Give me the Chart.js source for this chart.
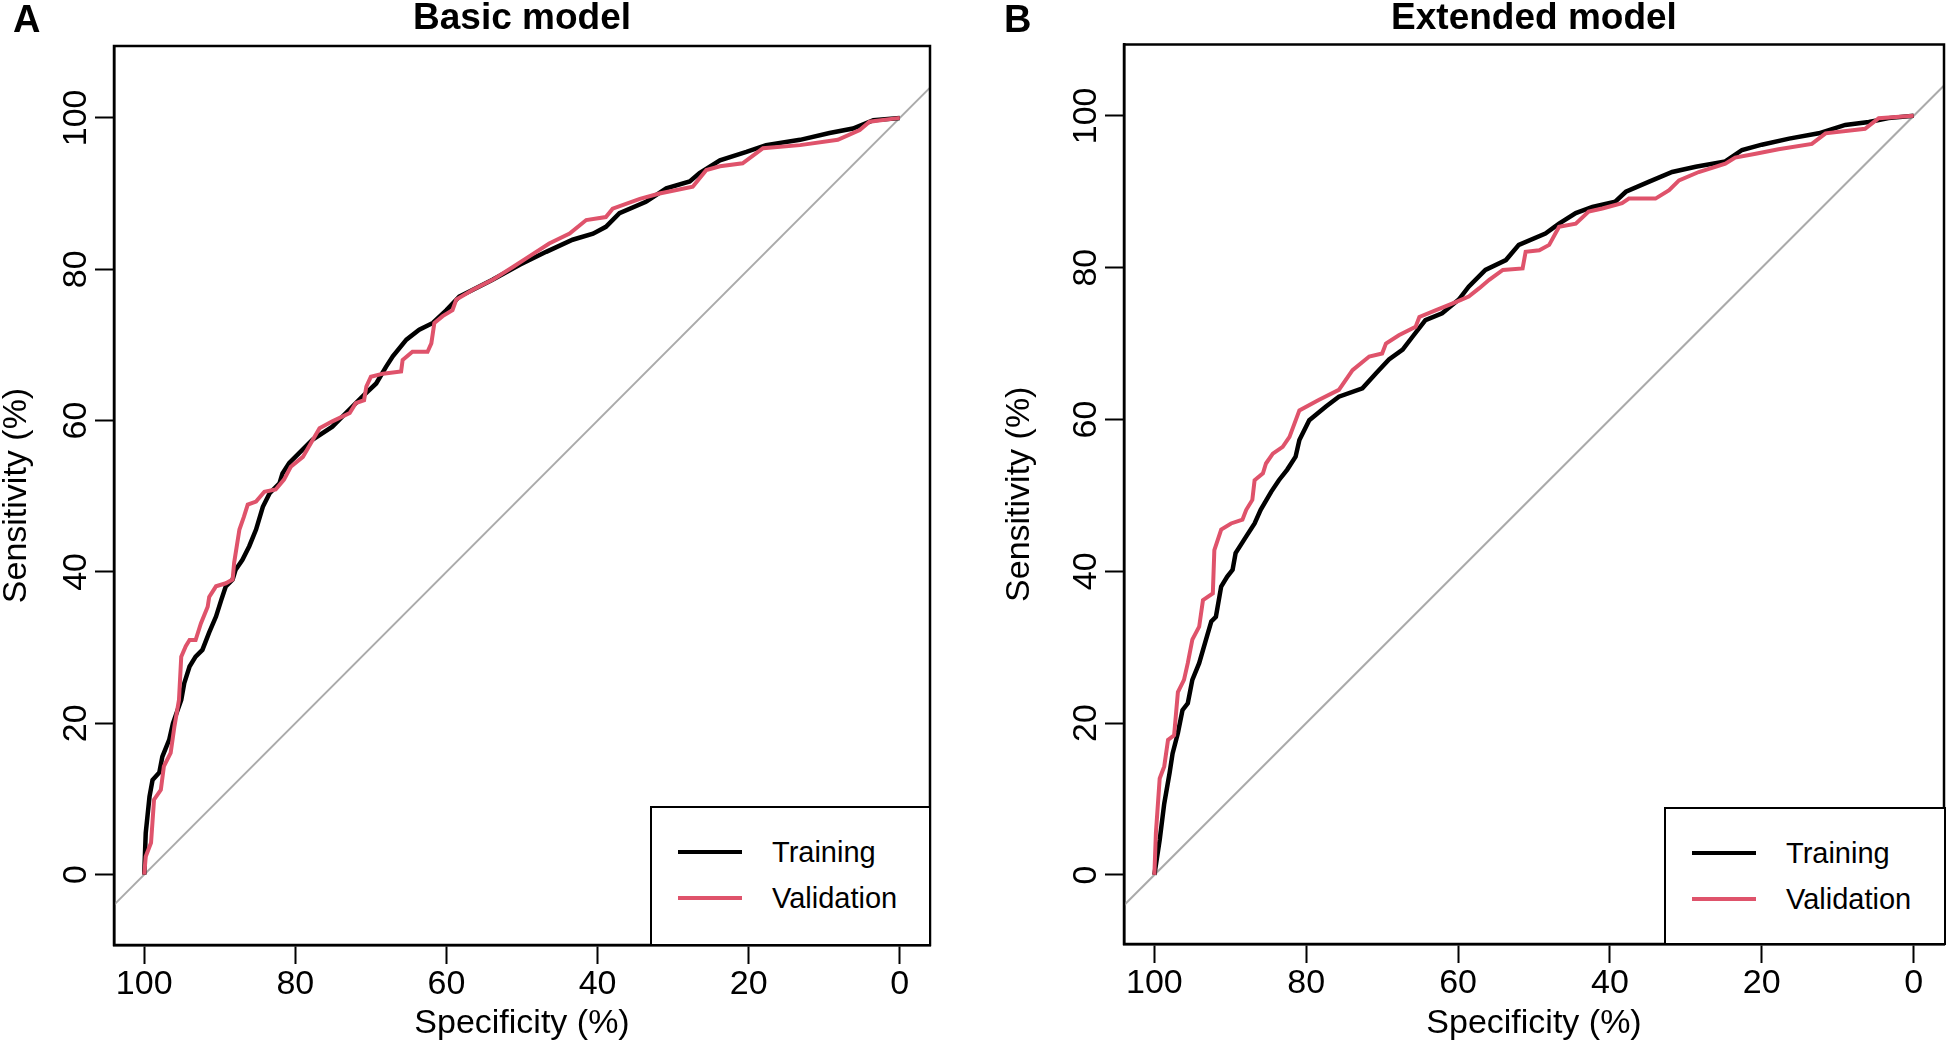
<!DOCTYPE html>
<html>
<head>
<meta charset="utf-8">
<title>ROC curves</title>
<script src="https://cdn.jsdelivr.net/npm/chart.js@4.4.1/dist/chart.umd.min.js"></script>
<style>
  html, body { margin: 0; padding: 0; background: #fff; }
  body { position: relative; width: 1946px; height: 1043px; overflow: hidden; font-family: 'Liberation Sans', Arial, sans-serif; color: #000; }
  canvas { position: absolute; top: 0; }
  .panel-letter { position: absolute; top: 0; font-weight: bold; font-size: 38px; line-height: 38px; }
  .roc-legend { position: absolute; box-sizing: border-box; border: 2px solid #000; background: #fff; }
  .roc-legend .row { position: absolute; left: 0; height: 36px; display: flex; align-items: center; font-size: 29px; line-height: 36px; white-space: nowrap; }
  .roc-legend .swatch { display: inline-block; width: 64px; height: 4px; margin-left: 26px; margin-right: 30px; }
</style>
</head>
<body>
<canvas id="basicChart" width="973" height="1043" style="left:0"></canvas>
<canvas id="extendedChart" width="943" height="1043" style="left:1003px"></canvas>
<div class="panel-letter" style="left:13px">A</div>
<div class="panel-letter" style="left:1004px">B</div>
<div class="roc-legend" id="basicLegend" style="left:650px; top:806px; width:281px; height:140px"></div>
<div class="roc-legend" id="extendedLegend" style="left:1664px; top:807px; width:282px; height:138px"></div>
<script>
var xTicks = [100, 80, 60, 40, 20, 0];
var yTicks = [0, 20, 40, 60, 80, 100];
var seriesNames = ['Training', 'Validation'];
var seriesColors = ['#000000', '#DF536B'];
var chanceColor = '#AAAAAA';

// [specificity %, sensitivity %]
var basicTraining = [
  [100, 0], [99.8, 5.5], [99.3, 10.3], [98.9, 12.5], [98.0, 13.5], [97.6, 15.6], [96.7, 17.8],
  [96.2, 20], [95.1, 23.1], [94.7, 25.3], [94.0, 27.5], [93.2, 28.8], [92.3, 29.7], [91.4, 32],
  [90.5, 34.1], [89.8, 36.3], [89.2, 38.1], [88.3, 39], [87.9, 40.3], [87.0, 41.6], [86.1, 43.4],
  [85.2, 45.6], [84.3, 48.6], [83.4, 50.4], [82.1, 51.7], [81.7, 53.0], [80.8, 54.4], [79.5, 55.7],
  [77.7, 57.5], [75.1, 59.2], [73.3, 61.0], [71.1, 63.2], [69.3, 64.9], [68.0, 67.1], [67.1, 68.5],
  [65.3, 70.7], [63.6, 72.0], [61.8, 72.9], [60.0, 74.6], [58.3, 76.4], [56.5, 77.3], [53.9, 78.6],
  [50.3, 80.6], [46.8, 82.3], [43.3, 83.9], [40.6, 84.7], [38.9, 85.6], [37.1, 87.4], [33.6, 88.9],
  [30.9, 90.7], [27.8, 91.6], [26.5, 92.7], [23.8, 94.4], [20.3, 95.5], [17.7, 96.4], [13.2, 97.1],
  [9.3, 98.0], [6.2, 98.6], [3.5, 99.7], [0, 100]
];
var basicValidation = [
  [100, 0], [99.8, 2.4], [99.1, 4.2], [98.7, 9.9], [97.8, 11.2], [97.4, 14.3], [96.5, 16.1],
  [96.0, 19.6], [95.4, 23.1], [95.1, 28.8], [94.5, 30.2], [94.0, 31.0], [93.2, 31.0], [92.5, 33.2],
  [91.6, 35.4], [91.4, 36.7], [90.5, 38.1], [89.2, 38.5], [88.3, 39.0], [88.1, 41.2], [87.4, 45.6],
  [86.8, 47.3], [86.3, 48.9], [85.2, 49.3], [84.1, 50.6], [82.6, 50.9], [81.5, 52.2], [80.6, 53.9],
  [79.0, 55.2], [76.8, 59.0], [75.1, 59.9], [72.8, 61.0], [72.0, 62.3], [70.9, 62.7], [70.6, 64.5],
  [70.0, 65.8], [68.4, 66.2], [66.0, 66.5], [65.8, 68.0], [64.5, 69.1], [62.5, 69.1], [62.0, 70.2],
  [61.6, 72.9], [60.5, 73.8], [59.2, 74.6], [58.7, 76.0], [56.5, 77.3], [53.9, 78.6], [51.2, 80.3],
  [49.5, 81.4], [46.4, 83.4], [43.7, 84.7], [41.5, 86.5], [38.9, 86.9], [38.0, 88.0], [34.4, 89.3],
  [31.8, 90.0], [27.4, 90.9], [25.6, 93.1], [23.8, 93.6], [20.8, 94.0], [18.1, 96.0], [13.2, 96.4],
  [8.2, 97.1], [5.3, 98.4], [4.0, 99.5], [0, 100]
];
var extendedTraining = [
  [100, 0], [99.3, 4.6], [98.7, 9.4], [98.0, 13.4], [97.6, 16.0], [96.9, 18.7], [96.3, 21.7],
  [95.6, 22.6], [95.0, 25.7], [94.1, 27.9], [93.2, 31.0], [92.5, 33.4], [91.9, 34.0], [91.2, 38.0],
  [90.4, 39.3], [89.7, 40.2], [89.3, 42.4], [87.9, 44.6], [86.8, 46.3], [86.0, 48.1], [84.6, 50.5],
  [83.6, 52.0], [82.5, 53.4], [81.4, 55.1], [80.9, 57.3], [79.6, 59.9], [77.4, 61.7], [75.7, 63.0],
  [72.6, 64.1], [70.8, 66.1], [69.1, 67.9], [67.3, 69.2], [66.0, 70.9], [64.3, 73.1], [62.1, 74.0],
  [59.9, 75.8], [58.6, 77.5], [56.4, 79.7], [53.7, 81.0], [52.0, 83.0], [48.5, 84.5], [46.7, 85.8],
  [44.5, 87.2], [42.3, 88.0], [39.3, 88.7], [37.9, 90.0], [34.9, 91.3], [31.8, 92.6], [28.7, 93.3],
  [24.8, 94.0], [22.6, 95.5], [20.0, 96.2], [16.4, 97.0], [12.5, 97.7], [9.0, 98.8], [5.9, 99.2],
  [3.3, 99.7], [0, 100]
];
var extendedValidation = [
  [100, 0], [99.8, 5.5], [99.3, 12.7], [98.7, 14.3], [98.2, 17.8], [97.4, 18.4], [96.9, 24.1],
  [96.1, 25.7], [95.6, 27.9], [95.0, 31.0], [94.1, 32.7], [93.6, 36.2], [92.3, 37.1], [92.1, 42.8],
  [91.2, 45.5], [89.9, 46.3], [88.4, 46.8], [87.9, 48.1], [87.1, 49.4], [86.8, 52.0], [85.7, 52.9],
  [85.3, 54.2], [84.4, 55.5], [83.1, 56.4], [82.2, 57.7], [80.9, 61.2], [78.3, 62.6], [75.7, 63.9],
  [73.9, 66.5], [71.7, 68.3], [70.0, 68.7], [69.5, 70.0], [67.8, 71.1], [65.6, 72.2], [65.1, 73.5],
  [62.9, 74.4], [60.7, 75.3], [58.6, 76.2], [57.2, 77.3], [55.9, 78.4], [54.1, 79.7], [51.5, 79.9],
  [51.1, 82.1], [49.3, 82.3], [48.0, 83.0], [46.7, 85.4], [44.5, 85.8], [42.8, 87.4], [41.0, 87.8],
  [38.4, 88.5], [37.5, 89.1], [34.0, 89.1], [32.2, 90.2], [30.9, 91.5], [28.3, 92.6], [24.8, 93.7],
  [23.5, 94.5], [20.8, 95.0], [17.8, 95.6], [13.4, 96.3], [11.6, 97.7], [6.4, 98.3], [4.6, 99.7],
  [0, 100]
];

var FONT = "'Liberation Sans', Arial, sans-serif";
var TICK_LEN = 19;

function toPoints(pairs) {
  return pairs.map(function(p) { return { x: p[0], y: p[1] }; });
}

function widestLabel(labels, size) {
  var ctx = document.createElement('canvas').getContext('2d');
  ctx.font = size + 'px ' + FONT;
  var w = 0;
  labels.forEach(function(l) { w = Math.max(w, ctx.measureText(String(l)).width); });
  return w;
}

// box round the plot region, like R's box()
var framePlugin = {
  id: 'frame',
  afterDatasetsDraw: function(chart) {
    var a = chart.chartArea;
    var ctx = chart.ctx;
    ctx.save();
    ctx.strokeStyle = '#000';
    ctx.lineWidth = 2.5;
    ctx.strokeRect(a.left, a.top, a.right - a.left, a.bottom - a.top);
    ctx.restore();
  }
};

function makeRocChart(canvasId, title, training, validation, layout) {
  var xMin = -4, xMax = 104;
  var chanceLine = [{ x: xMax, y: 100 - xMax }, { x: xMin, y: 100 - xMin }];
  var tickFont = { family: FONT, size: 34, lineHeight: 1 };
  var yLabelPad = 37.5 - TICK_LEN - widestLabel(yTicks, 34) / 2;

  return new Chart(document.getElementById(canvasId), {
    type: 'line',
    data: {
      datasets: [
        { label: seriesNames[1], data: toPoints(validation), borderColor: seriesColors[1], borderWidth: 4, pointRadius: 0, tension: 0 },
        { label: seriesNames[0], data: toPoints(training), borderColor: seriesColors[0], borderWidth: 4.5, pointRadius: 0, tension: 0 },
        { label: 'Chance', data: chanceLine, borderColor: chanceColor, borderWidth: 2, pointRadius: 0, tension: 0 }
      ]
    },
    options: {
      responsive: false,
      animation: false,
      devicePixelRatio: 1,
      events: [],
      layout: { padding: { left: 0, right: layout.padRight, top: 0, bottom: 0 } },
      plugins: {
        legend: { display: false },
        tooltip: { enabled: false },
        title: {
          display: true,
          text: title,
          fullSize: false,
          color: '#000',
          font: { family: FONT, size: 37, weight: 'bold', lineHeight: 1 },
          padding: { top: layout.titleTop, bottom: layout.titleBottom }
        }
      },
      scales: {
        x: {
          type: 'linear',
          reverse: true,
          min: xMin,
          max: xMax,
          afterBuildTicks: function(scale) {
            scale.ticks = xTicks.map(function(v) { return { value: v }; });
          },
          afterFit: function(scale) { scale.height = layout.xAxisHeight; },
          grid: { drawOnChartArea: false, drawTicks: true, tickLength: TICK_LEN, tickWidth: 2, tickColor: '#000' },
          border: { display: true, color: '#000', width: 2.5 },
          ticks: {
            color: '#000', font: tickFont, padding: 4, maxRotation: 0, autoSkip: false,
            callback: function(v) { return String(v); }
          },
          title: { display: true, text: 'Specificity (%)', color: '#000', font: tickFont, padding: { top: 0, bottom: 2 } }
        },
        y: {
          type: 'linear',
          min: layout.yMin,
          max: layout.yMax,
          afterBuildTicks: function(scale) {
            scale.ticks = yTicks.map(function(v) { return { value: v }; });
          },
          afterFit: function(scale) { scale.width = layout.yAxisWidth; },
          grid: { drawOnChartArea: false, drawTicks: true, tickLength: TICK_LEN, tickWidth: 2, tickColor: '#000' },
          border: { display: true, color: '#000', width: 2.5 },
          ticks: {
            color: '#000', font: tickFont, padding: yLabelPad, minRotation: 90, maxRotation: 90,
            crossAlign: 'center', autoSkip: false,
            callback: function(v) { return String(v); }
          },
          title: { display: true, text: 'Sensitivity (%)', color: '#000', font: tickFont, padding: { top: 0, bottom: 0 } }
        }
      }
    },
    plugins: [framePlugin]
  });
}

function buildLegend(id) {
  var box = document.getElementById(id);
  seriesNames.forEach(function(name, i) {
    var row = document.createElement('div');
    row.className = 'row';
    row.style.top = (26 + i * 46) + 'px';
    var swatch = document.createElement('span');
    swatch.className = 'swatch';
    swatch.style.background = seriesColors[i];
    var label = document.createElement('span');
    label.textContent = name;
    row.appendChild(swatch);
    row.appendChild(label);
    box.appendChild(row);
  });
}

makeRocChart('basicChart', 'Basic model', basicTraining, basicValidation, {
  padRight: 43, yAxisWidth: 114, xAxisHeight: 98, titleTop: 0, titleBottom: 9, yMin: -9.3, yMax: 109.5
});
makeRocChart('extendedChart', 'Extended model', extendedTraining, extendedValidation, {
  padRight: 2, yAxisWidth: 121, xAxisHeight: 99, titleTop: 0, titleBottom: 7.5, yMin: -9.1, yMax: 109.4
});
buildLegend('basicLegend');
buildLegend('extendedLegend');
</script>
</body>
</html>
